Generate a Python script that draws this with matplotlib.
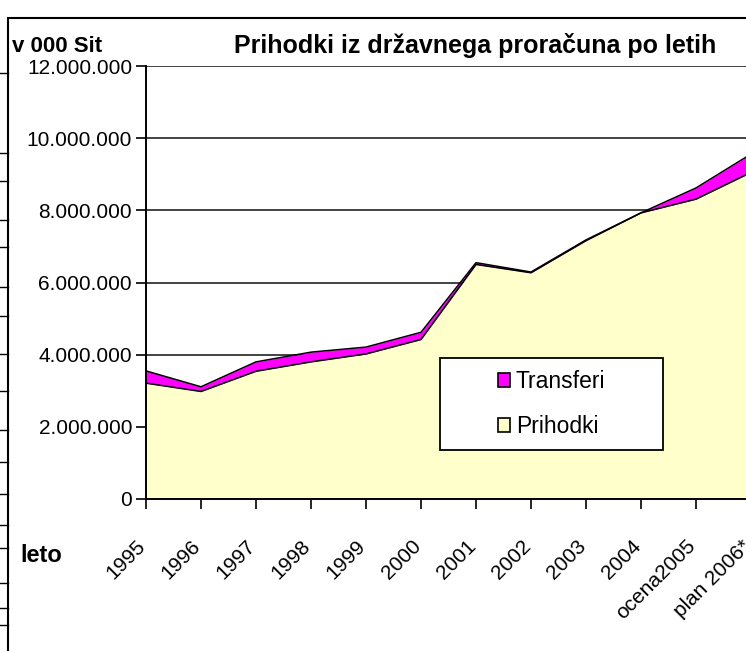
import matplotlib
matplotlib.use("Agg")
import matplotlib.pyplot as plt
import matplotlib.transforms as mtransforms
from matplotlib.patches import Patch, Rectangle
from matplotlib.lines import Line2D
from matplotlib.ticker import FuncFormatter

# data (v 000 Sit)
leta = ["1995", "1996", "1997", "1998", "1999", "2000", "2001", "2002",
        "2003", "2004", "ocena2005", "plan 2006*"]
prihodki = [3210000, 2980000, 3540000, 3800000, 4020000, 4420000,
            6500000, 6270000, 7160000, 7930000, 8310000, 9050000]
transferi = [340000, 130000, 260000, 270000, 190000, 200000,
             50000, 20000, 20000, 0, 310000, 510000]
yticks = [0, 2000000, 4000000, 6000000, 8000000, 10000000, 12000000]

plt.rcParams['font.family'] = ['Liberation Sans', 'DejaVu Sans']

W, H = 746, 651
fig = plt.figure(figsize=(W / 100, H / 100), dpi=100)

# plot area in pixel units -> figure fractions
left, right, top, bottom = 146, 751, 66, 499
ax = fig.add_axes([left / W, 1 - bottom / H, (right - left) / W, (bottom - top) / H])

x = list(range(len(leta)))
total = [p + t for p, t in zip(prihodki, transferi)]

ax.fill_between(x, 0, prihodki, color='#FFFFCC', lw=0, zorder=2)
ax.fill_between(x, prihodki, total, color='#FF00FF', lw=0, zorder=2)
ax.plot(x, prihodki, color='black', lw=1.1, zorder=3)
ax.plot(x, total, color='black', lw=1.1, zorder=3)

ax.set_xlim(0, len(leta) - 1)
ax.set_ylim(0, 12000000)
ax.set_yticks(yticks)
ax.yaxis.set_major_formatter(FuncFormatter(lambda v, p: f"{int(v):,}".replace(",", ".")))
ax.set_xticks(x)
ax.set_xticklabels(leta, rotation=45, ha='right', va='top', rotation_mode='anchor')

ax.grid(axis='y', color='#222222', lw=1.2, zorder=1)
ax.set_axisbelow(True)
ax.tick_params(axis='both', direction='out', length=7, width=1.2, labelsize=15, colors='black')
ax.tick_params(axis='x', pad=20)
ax.tick_params(axis='y', pad=3)
shift = mtransforms.ScaledTranslation(-10 / 100, 0, fig.dpi_scale_trans)
for lab in ax.get_xticklabels():
    lab.set_transform(lab.get_transform() + shift)
for s in ['top', 'right']:
    ax.spines[s].set_visible(False)
for s in ['left', 'bottom']:
    ax.spines[s].set_linewidth(1.4)
    ax.spines[s].set_zorder(4)

# legend box drawn as its own frame, entries centred inside
lx0, ly0, lx1, ly1 = 440, 358, 663, 450
fig.add_artist(Rectangle((lx0 / W, 1 - ly1 / H), (lx1 - lx0) / W, (ly1 - ly0) / H,
                         transform=fig.transFigure, facecolor='white',
                         edgecolor='black', lw=1.3, zorder=5))
leg_handles = [Patch(facecolor='#FF00FF', edgecolor='black', lw=1.2, label='Transferi'),
               Patch(facecolor='#FFFFCC', edgecolor='black', lw=1.2, label='Prihodki')]
leg = fig.legend(handles=leg_handles, loc='center',
                 bbox_to_anchor=((lx0 + lx1) / 2 / W, 1 - (ly0 + ly1) / 2 / H),
                 fontsize=16.5, frameon=False,
                 handlelength=0.55, handleheight=0.55, handletextpad=0.25,
                 borderpad=0, labelspacing=0.95, borderaxespad=0)
leg.set_zorder(10)

# texts
fig.text(12 / W, 1 - 46 / H, "v 000 Sit", fontsize=16, fontweight='bold', va='center', ha='left')
fig.text(475 / W, 1 - 46 / H, "Prihodki iz državnega proračuna po letih",
         fontsize=18, fontweight='bold', va='center', ha='center')
fig.text(20 / W, 1 - 555 / H, "leto", fontsize=17, fontweight='bold', va='center', ha='left')

# chart area border
fig.patches.append(Rectangle((8 / W, -0.1), 1.2, 1 - 18 / H + 0.1, transform=fig.transFigure,
                             fill=False, edgecolor='black', lw=1.5))

# table fragments left of chart
for yy in [73, 153, 181, 220, 247, 287, 316, 354, 391, 430, 462, 494, 525, 548, 583, 608, 625]:
    fig.add_artist(Line2D([0, 8 / W], [1 - yy / H, 1 - yy / H], transform=fig.transFigure,
                          color='black', lw=1))

fig.savefig("out.png", dpi=100)
